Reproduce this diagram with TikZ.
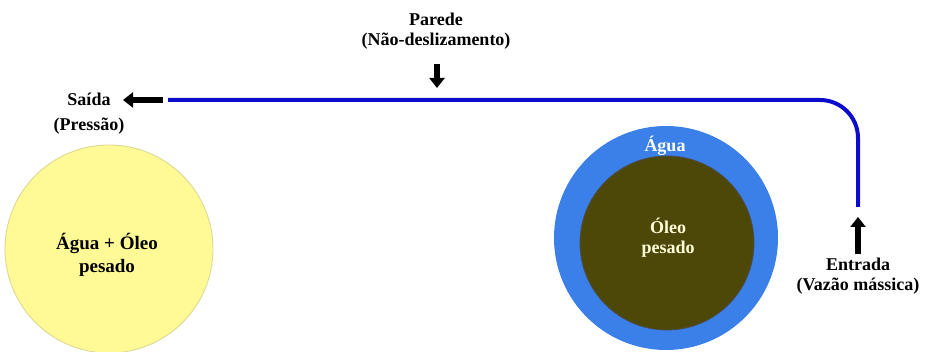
\documentclass[tikz,border=0pt]{standalone}
\usepackage{fontspec}
\setmainfont{Liberation Serif}
\usetikzlibrary{arrows.meta}

\definecolor{amarelo}{RGB}{255,250,150}
\definecolor{agua}{RGB}{58,128,232}
\definecolor{oleo}{RGB}{78,72,8}
\definecolor{tubo}{RGB}{12,12,205}

\begin{document}
\begin{tikzpicture}[x=1pt, y=-1pt, thick,
  lbl/.style={font=\fontsize{18}{20}\selectfont\bfseries, align=center, inner sep=0pt},
  seta/.style={line width=6pt, -{Triangle[length=10pt, width=15pt]}},
  pipe/.style={line width=4pt, draw=tubo, rounded corners=38pt}]

  \useasboundingbox (0,0) rectangle (929,352);

  % misturas
  \node[circle, draw=amarelo!70!gray, fill=amarelo, minimum size=208pt, inner sep=0pt] (mist) at (109,249) {};
  \node[lbl, font=\fontsize{19}{23}\selectfont\bfseries] at (107,255) {Água + Óleo\\pesado};

  \node[circle, fill=agua, minimum size=224pt, inner sep=0pt] (anel) at (666,238) {};
  \node[circle, draw=black!70, fill=oleo, minimum size=174pt, inner sep=0pt] (nucleo) at (667,243) {};
  \node[lbl, text=white] (aguatxt) at (665,146) {Água};
  \node[lbl, text=yellow!15] at (668,238) {Óleo\\pesado};

  % tubo
  \coordinate (tubo0) at (168,100);
  \coordinate (tubo1) at (858,100);
  \coordinate (tubo2) at (858,207);
  \draw[pipe] (tubo0) -- (tubo1) -- (tubo2);

  % condicoes de contorno
  \node[lbl, font=\fontsize{18}{25}\selectfont\bfseries] (saida) at (89,114) {Saída\\(Pressão)};
  \coordinate (s0) at (163,100);
  \coordinate (s1) at (123,100);
  \draw[seta] (s0) -- (s1);

  \node[lbl] (parede) at (436,31) {Parede\\(Não-deslizamento)};
  \coordinate (p0) at (437,64);
  \coordinate (p1) at (437,88);
  \draw[seta] (p0) -- (p1);

  \node[lbl] (entrada) at (858,276) {Entrada\\(Vazão mássica)};
  \coordinate (e0) at (858,254);
  \coordinate (e1) at (858,217);
  \draw[seta] (e0) -- (e1);

\end{tikzpicture}
\end{document}
